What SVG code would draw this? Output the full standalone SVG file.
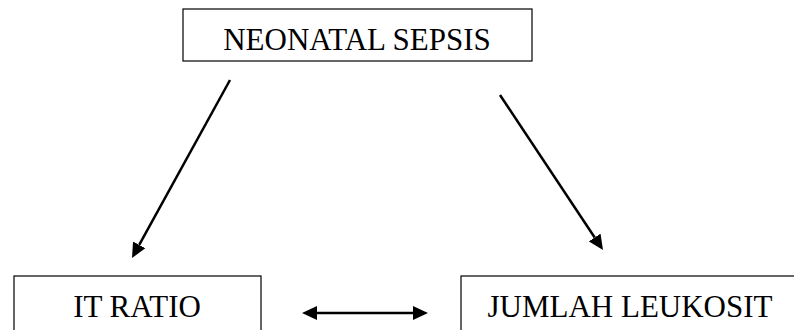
<svg xmlns="http://www.w3.org/2000/svg" width="794" height="330" viewBox="0 0 794 330">
<style>
.box{fill:#fff;stroke:#000;stroke-width:1.2}
.lbl{font-family:"Liberation Serif","Times New Roman",serif;font-size:31px;fill:#000;text-anchor:middle}
.con{fill:none;stroke:#000;stroke-width:2.5}
</style>
<defs>
<marker id="ah" viewBox="0 0 15 14" refX="0" refY="7" markerWidth="15" markerHeight="14" markerUnits="userSpaceOnUse" orient="auto-start-reverse">
<path d="M0,0 L15,7 L0,14 z" fill="#000"/>
</marker>
</defs>
<rect width="794" height="330" fill="#fff"/>
<g id="node-neonatal-sepsis">
<rect class="box" x="183" y="9" width="349" height="52"/>
<text class="lbl" x="357" y="50">NEONATAL SEPSIS</text>
</g>
<g id="node-it-ratio">
<rect class="box" x="14" y="276" width="247" height="70"/>
<text class="lbl" x="137" y="317">IT RATIO</text>
</g>
<g id="node-jumlah-leukosit">
<rect class="box" x="461" y="276" width="345" height="70"/>
<text class="lbl" x="630" y="317">JUMLAH LEUKOSIT</text>
</g>
<g id="connectors">
<path class="con" d="M230,80 L139.2,244.9" marker-end="url(#ah)"/>
<path class="con" d="M500,95 L594.7,237.5" marker-end="url(#ah)"/>
<path class="con" d="M317,313 L413,313" marker-start="url(#ah)" marker-end="url(#ah)"/>
</g>
</svg>
